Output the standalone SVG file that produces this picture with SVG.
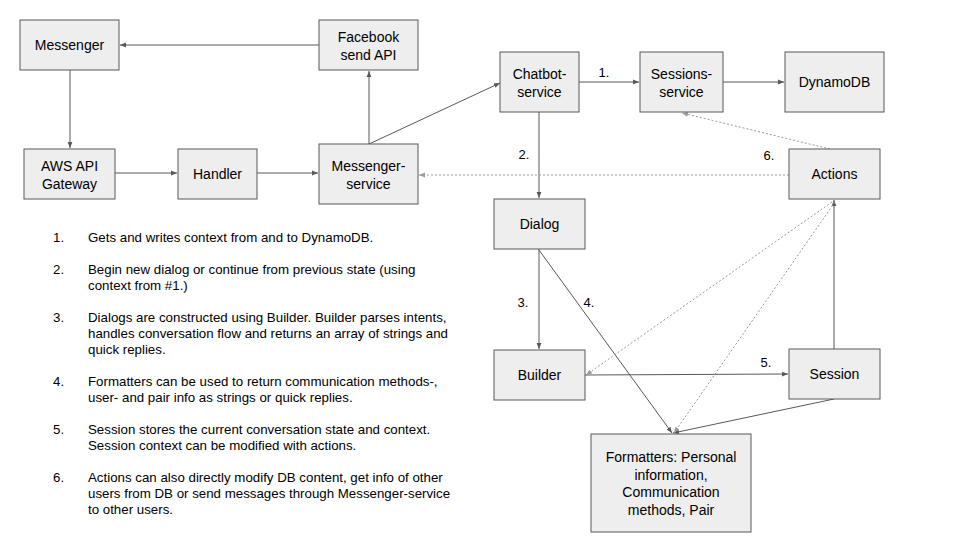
<svg xmlns="http://www.w3.org/2000/svg" width="960" height="540" viewBox="0 0 960 540">
<style>
.box{fill:#eeeeee;stroke:#595959;stroke-width:1}
.t{font-family:"Liberation Sans",Arial,sans-serif;font-size:14px;fill:#000;text-anchor:middle}
.n{font-family:"Liberation Sans",Arial,sans-serif;font-size:13px;fill:#000}
.l{font-family:"Liberation Sans",Arial,sans-serif;font-size:13.3px;fill:#000}
.s{stroke:#595959;stroke-width:1;fill:none}
.d{stroke:#999999;stroke-width:1;fill:none;stroke-dasharray:2,2}
</style>
<defs>
<marker id="a" viewBox="0 0 10 10" refX="10" refY="5" markerWidth="6" markerHeight="6" markerUnits="userSpaceOnUse" orient="auto">
<path d="M0,1 L10,5 L0,9 z" fill="#595959"/>
</marker>
<marker id="ad" viewBox="0 0 10 10" refX="10" refY="5" markerWidth="6" markerHeight="6" markerUnits="userSpaceOnUse" orient="auto">
<path d="M0,1 L10,5 L0,9 z" fill="#999999"/>
</marker>
</defs>
<rect width="960" height="540" fill="#ffffff"/>
<g id="connectors">
<line class="s" x1="319" y1="45" x2="120" y2="45" marker-end="url(#a)"/>
<line class="s" x1="70" y1="70" x2="70" y2="148" marker-end="url(#a)"/>
<line class="s" x1="115" y1="173" x2="177" y2="173" marker-end="url(#a)"/>
<line class="s" x1="257" y1="173" x2="318" y2="173" marker-end="url(#a)"/>
<line class="s" x1="369" y1="144" x2="369" y2="71" marker-end="url(#a)"/>
<line class="s" x1="369" y1="144" x2="500" y2="83" marker-end="url(#a)"/>
<line class="s" x1="579" y1="82" x2="639" y2="82" marker-end="url(#a)"/>
<line class="s" x1="723" y1="82" x2="784" y2="82" marker-end="url(#a)"/>
<line class="s" x1="539" y1="112" x2="539" y2="198" marker-end="url(#a)"/>
<line class="d" x1="830" y1="149" x2="682" y2="113" marker-end="url(#ad)"/>
<line class="d" x1="789" y1="175" x2="419" y2="175" marker-end="url(#ad)"/>
<line class="s" x1="539" y1="249" x2="539" y2="349" marker-end="url(#a)"/>
<line class="s" x1="539" y1="250" x2="672" y2="433" marker-end="url(#a)"/>
<line class="s" x1="585" y1="375" x2="788" y2="374" marker-end="url(#a)"/>
<line class="s" x1="834" y1="349" x2="834" y2="200" marker-end="url(#a)"/>
<line class="s" x1="834" y1="399" x2="673" y2="433" marker-end="url(#a)"/>
<line class="d" x1="832" y1="202" x2="586" y2="375" marker-end="url(#ad)"/>
<line class="d" x1="835" y1="202" x2="674" y2="433" marker-end="url(#ad)"/>
<text class="n" x="604" y="77" text-anchor="middle">1.</text>
<text class="n" x="524" y="159" text-anchor="middle">2.</text>
<text class="n" x="523" y="307" text-anchor="middle">3.</text>
<text class="n" x="589" y="307" text-anchor="middle">4.</text>
<text class="n" x="766" y="367" text-anchor="middle">5.</text>
<text class="n" x="769" y="160" text-anchor="middle">6.</text>
</g>
<g id="messenger"><rect class="box" x="20" y="20" width="99" height="50"/><text class="t" x="69.5" y="50">Messenger</text></g>
<g id="facebook"><rect class="box" x="319" y="20" width="99" height="50"/><text class="t" x="368.5" y="41.5">Facebook</text><text class="t" x="368.5" y="59.5">send API</text></g>
<g id="aws"><rect class="box" x="24" y="149" width="91" height="50"/><text class="t" x="69.5" y="170.5">AWS API</text><text class="t" x="69.5" y="188.5">Gateway</text></g>
<g id="handler"><rect class="box" x="178" y="149" width="79" height="50"/><text class="t" x="217.5" y="179">Handler</text></g>
<g id="messenger-service"><rect class="box" x="319" y="144" width="99" height="60"/><text class="t" x="368.5" y="170.5">Messenger-</text><text class="t" x="368.5" y="188.5">service</text></g>
<g id="chatbot"><rect class="box" x="500" y="52" width="79" height="60"/><text class="t" x="539.5" y="78.5">Chatbot-</text><text class="t" x="539.5" y="96.5">service</text></g>
<g id="sessions"><rect class="box" x="640" y="52" width="83" height="60"/><text class="t" x="681.5" y="78.5">Sessions-</text><text class="t" x="681.5" y="96.5">service</text></g>
<g id="dynamodb"><rect class="box" x="785" y="52" width="99" height="60"/><text class="t" x="834.5" y="87">DynamoDB</text></g>
<g id="actions"><rect class="box" x="789" y="149" width="91" height="50"/><text class="t" x="834.5" y="179">Actions</text></g>
<g id="dialog"><rect class="box" x="494" y="199" width="91" height="50"/><text class="t" x="539.5" y="229">Dialog</text></g>
<g id="builder"><rect class="box" x="494" y="350" width="91" height="50"/><text class="t" x="539.5" y="380">Builder</text></g>
<g id="session"><rect class="box" x="789" y="349" width="91" height="50"/><text class="t" x="834.5" y="379">Session</text></g>
<g id="formatters"><rect class="box" x="591" y="434" width="160" height="98"/>
<text class="t" x="671" y="462">Formatters: Personal</text>
<text class="t" x="671" y="479.5">information,</text>
<text class="t" x="671" y="497">Communication</text>
<text class="t" x="671" y="515">methods, Pair</text></g>
<g id="notes">
<text class="l" x="53" y="242">1.</text><text class="l" x="88" y="242">Gets and writes context from and to DynamoDB.</text>
<text class="l" x="53" y="274">2.</text><text class="l" x="88" y="274">Begin new dialog or continue from previous state (using</text>
<text class="l" x="88" y="290">context from #1.)</text>
<text class="l" x="53" y="322">3.</text><text class="l" x="88" y="322">Dialogs are constructed using Builder. Builder parses intents,</text>
<text class="l" x="88" y="338">handles conversation flow and returns an array of strings and</text>
<text class="l" x="88" y="354">quick replies.</text>
<text class="l" x="53" y="386">4.</text><text class="l" x="88" y="386">Formatters can be used to return communication methods-,</text>
<text class="l" x="88" y="402">user- and pair info as strings or quick replies.</text>
<text class="l" x="53" y="434">5.</text><text class="l" x="88" y="434">Session stores the current conversation state and context.</text>
<text class="l" x="88" y="450">Session context can be modified with actions.</text>
<text class="l" x="53" y="482">6.</text><text class="l" x="88" y="482">Actions can also directly modify DB content, get info of other</text>
<text class="l" x="88" y="498">users from DB or send messages through Messenger-service</text>
<text class="l" x="88" y="514">to other users.</text>
</g>
</svg>
